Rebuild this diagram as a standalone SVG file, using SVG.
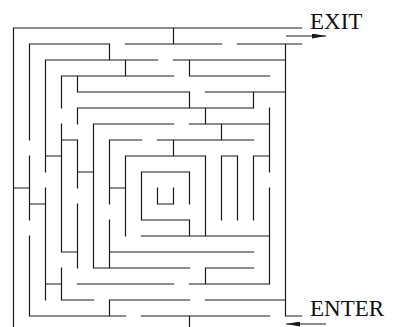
<svg xmlns="http://www.w3.org/2000/svg" width="393" height="327" viewBox="0 0 393 327">
  <style>
    .wall { fill: none; stroke: #1a1a1a; stroke-width: 1.2; stroke-linecap: square; }
    .arrow { fill: none; stroke: #1a1a1a; stroke-width: 1.2; }
    .label { font-family: "Liberation Serif", "Times New Roman", serif; font-size: 23px; fill: #111; }
  </style>
  <defs>
    <marker id="head" viewBox="0 0 14 5" refX="14" refY="2.5" markerWidth="14" markerHeight="5" markerUnits="userSpaceOnUse" orient="auto">
      <path d="M0,0 L14,2.5 L0,5 z" fill="#1a1a1a"/>
    </marker>
  </defs>
  <rect width="393" height="327" fill="#fff"/>
  <g id="maze">
    <path class="wall" d="
      M13.5 28H301.5
      M29.5 44H109.5 M125.5 44H221.5 M237.5 44H301.5
      M45.5 60H157.5 M173.5 60H285.5
      M61.5 76H173.5 M189.5 76H269.5
      M77.5 92H189.5 M205.5 92H285.5
      M77.5 108H253.5
      M93.5 124H173.5 M189.5 124H269.5
      M61.5 140H77.5 M109.5 140H141.5 M157.5 140H253.5
      M45.5 156H61.5 M125.5 156H205.5 M221.5 156H237.5 M253.5 156H269.5
      M77.5 172H93.5 M141.5 172H189.5
      M13.5 188H29.5 M109.5 188H125.5
      M29.5 204H45.5 M157.5 204H173.5
      M141.5 220H189.5
      M141.5 236H269.5
      M61.5 252H77.5 M109.5 252H253.5
      M93.5 268H189.5 M205.5 268H253.5
      M45.5 284H61.5 M77.5 284H173.5 M189.5 284H269.5
      M61.5 300H93.5 M109.5 300H189.5 M205.5 300H285.5
      M29.5 316H125.5 M141.5 316H269.5 M285.5 316H301.5
      M13.5 28V326.5
      M29.5 44V140 M29.5 156V220 M29.5 236V316
      M45.5 60V172 M45.5 188V300
      M61.5 76V108 M61.5 124V252 M61.5 268V300
      M77.5 76V92 M77.5 108V124 M77.5 140V188 M77.5 204V268
      M93.5 124V268
      M109.5 44V60 M109.5 140V204 M109.5 220V268 M109.5 300V316
      M125.5 60V76 M125.5 156V236
      M141.5 172V220
      M157.5 188V204
      M173.5 28V44 M173.5 140V156 M173.5 188V204
      M189.5 60V76 M189.5 92V108 M189.5 172V204 M189.5 220V236 M189.5 316V326.5
      M205.5 108V124 M205.5 156V236 M205.5 268V284
      M221.5 124V140 M221.5 156V220
      M237.5 156V220
      M253.5 92V108 M253.5 156V220
      M269.5 108V172 M269.5 188V284
      M285.5 44V316"/>
  </g>
  <g id="connectors">
    <line class="arrow" x1="286" y1="36" x2="326" y2="36" marker-end="url(#head)"/>
    <line class="arrow" x1="326" y1="324" x2="286" y2="324" marker-end="url(#head)"/>
  </g>
  <g id="exit">
    <text class="label" x="310" y="28.5">EXIT</text>
  </g>
  <g id="enter">
    <text class="label" x="310" y="316">ENTER</text>
  </g>
</svg>
